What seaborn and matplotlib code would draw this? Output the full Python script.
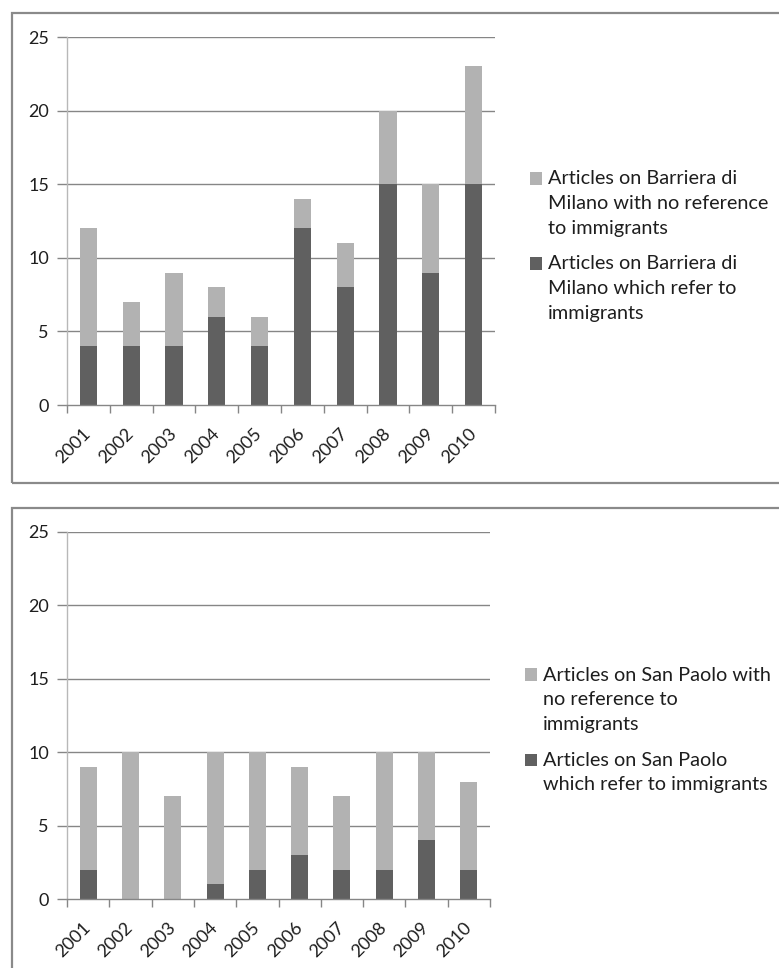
import numpy as np
import pandas as pd
import matplotlib
matplotlib.use("Agg")
import matplotlib.pyplot as plt
from matplotlib.patches import Rectangle, Patch
from matplotlib.legend_handler import HandlerPatch
import matplotlib.transforms as mtransforms
import seaborn as sns

years = ["2001", "2002", "2003", "2004", "2005", "2006", "2007", "2008", "2009", "2010"]
bm_refer = [4, 4, 4, 6, 4, 12, 8, 15, 9, 15]
bm_noref = [8, 3, 5, 2, 2, 2, 3, 5, 6, 8]
sp_refer = [2, 0, 0, 1, 2, 3, 2, 2, 4, 2]
sp_noref = [7, 10, 7, 9, 8, 6, 5, 8, 6, 6]
bm_labels = ["Articles on Barriera di\nMilano with no reference\nto immigrants",
             "Articles on Barriera di\nMilano which refer to\nimmigrants"]
sp_labels = ["Articles on San Paolo with\nno reference to\nimmigrants",
             "Articles on San Paolo\nwhich refer to immigrants"]
yticks = [0, 5, 10, 15, 20, 25]

LIGHT = "#b2b2b2"
DARK = "#606060"
GRID = "#868686"
TXT = "#1e1e1e"
LINE_PT = 18.0  # legend line spacing in points (25 px)

sns.set_theme(style="white")
plt.rcParams["font.family"] = ["Lato", "DejaVu Sans"]

W, H = 779, 968
fig = plt.figure(figsize=(W / 100, H / 100), dpi=100)

# panel borders
for (x0, y0, x1, y1) in [(12, 13, 790, 483), (12, 508, 790, 990)]:
    fig.patches.append(Rectangle((x0 / W, 1 - y1 / H), (x1 - x0) / W, (y1 - y0) / H,
                                 transform=fig.transFigure, fill=False,
                                 edgecolor="#8a8a8a", linewidth=1.6, zorder=0))


class TopAlignedPatch(HandlerPatch):
    def __init__(self, shift, **kw):
        super().__init__(**kw)
        self.shift = shift

    def create_artists(self, legend, orig_handle, xdescent, ydescent,
                       width, height, fontsize, trans):
        p = Rectangle(xy=(-xdescent, -ydescent + self.shift),
                      width=width, height=height)
        self.update_prop(p, orig_handle, legend)
        p.set_transform(trans)
        return [p]


def panel(rect, refer, noref, labels, leg_anchor):
    ax = fig.add_axes(rect)
    total = np.array(refer) + np.array(noref)
    df = pd.DataFrame({"year": years, "total": total, "refer": refer})
    sns.barplot(data=df, x="year", y="total", color=LIGHT, width=0.4,
                saturation=1, ax=ax, zorder=3, linewidth=0)
    sns.barplot(data=df, x="year", y="refer", color=DARK, width=0.4,
                saturation=1, ax=ax, zorder=4, linewidth=0)
    ax.set_xlim(-0.5, len(years) - 0.5)
    ax.set_ylim(0, 25)
    ax.set_yticks(yticks)
    ax.set_yticklabels([str(v) for v in yticks])
    for v in yticks[1:]:
        ax.axhline(v, color=GRID, linewidth=1.0, zorder=1)
    ax.set_xlabel("")
    ax.set_ylabel("")
    ax.set_xticks(range(len(years)))
    ax.set_xticklabels(years, rotation=45, ha="right", va="center",
                       rotation_mode="anchor")
    off = mtransforms.ScaledTranslation(4 / 100, 0, fig.dpi_scale_trans)
    for lab in ax.get_xticklabels():
        lab.set_transform(lab.get_transform() + off)
    ax.set_xticks(np.arange(-0.5, len(years), 1.0), minor=True)
    ax.tick_params(axis="x", which="major", length=0, pad=19, labelsize=13,
                   labelcolor=TXT)
    ax.tick_params(axis="x", which="minor", length=6, width=1, color=GRID,
                   bottom=True)
    ax.tick_params(axis="y", which="major", length=7, width=1, color=GRID,
                   left=True, pad=6, labelsize=13, labelcolor=TXT)
    for s in ["top", "right"]:
        ax.spines[s].set_visible(False)
    ax.spines["left"].set_color("#b8b8b8")
    ax.spines["left"].set_linewidth(1.0)
    ax.spines["bottom"].set_color(GRID)
    ax.spines["bottom"].set_linewidth(1.0)
    ax.spines["bottom"].set_zorder(5)
    handles = [Patch(facecolor=LIGHT, edgecolor="none", label=labels[0]),
               Patch(facecolor=DARK, edgecolor="none", label=labels[1])]
    hmap = {h: TopAlignedPatch((lab.count("\n")) / 2 * LINE_PT)
            for h, lab in zip(handles, labels)}
    leg = fig.legend(handles=handles, loc="center left",
                     bbox_to_anchor=(leg_anchor[0] / W, 1 - leg_anchor[1] / H),
                     frameon=False, fontsize=14.3, handlelength=0.6,
                     handleheight=0.6, handletextpad=0.3, labelspacing=0.95,
                     borderpad=0, borderaxespad=0, labelcolor=TXT,
                     handler_map=hmap)
    for t in leg.get_texts():
        t.set_linespacing(1.54)
    return ax


panel([67 / W, 1 - 405 / H, (495 - 67) / W, (405 - 37) / H],
      bm_refer, bm_noref, bm_labels, (530, 246))
panel([67 / W, 1 - 899 / H, (490 - 67) / W, (899 - 532) / H],
      sp_refer, sp_noref, sp_labels, (525, 730))

fig.savefig("out.png", dpi=100)
